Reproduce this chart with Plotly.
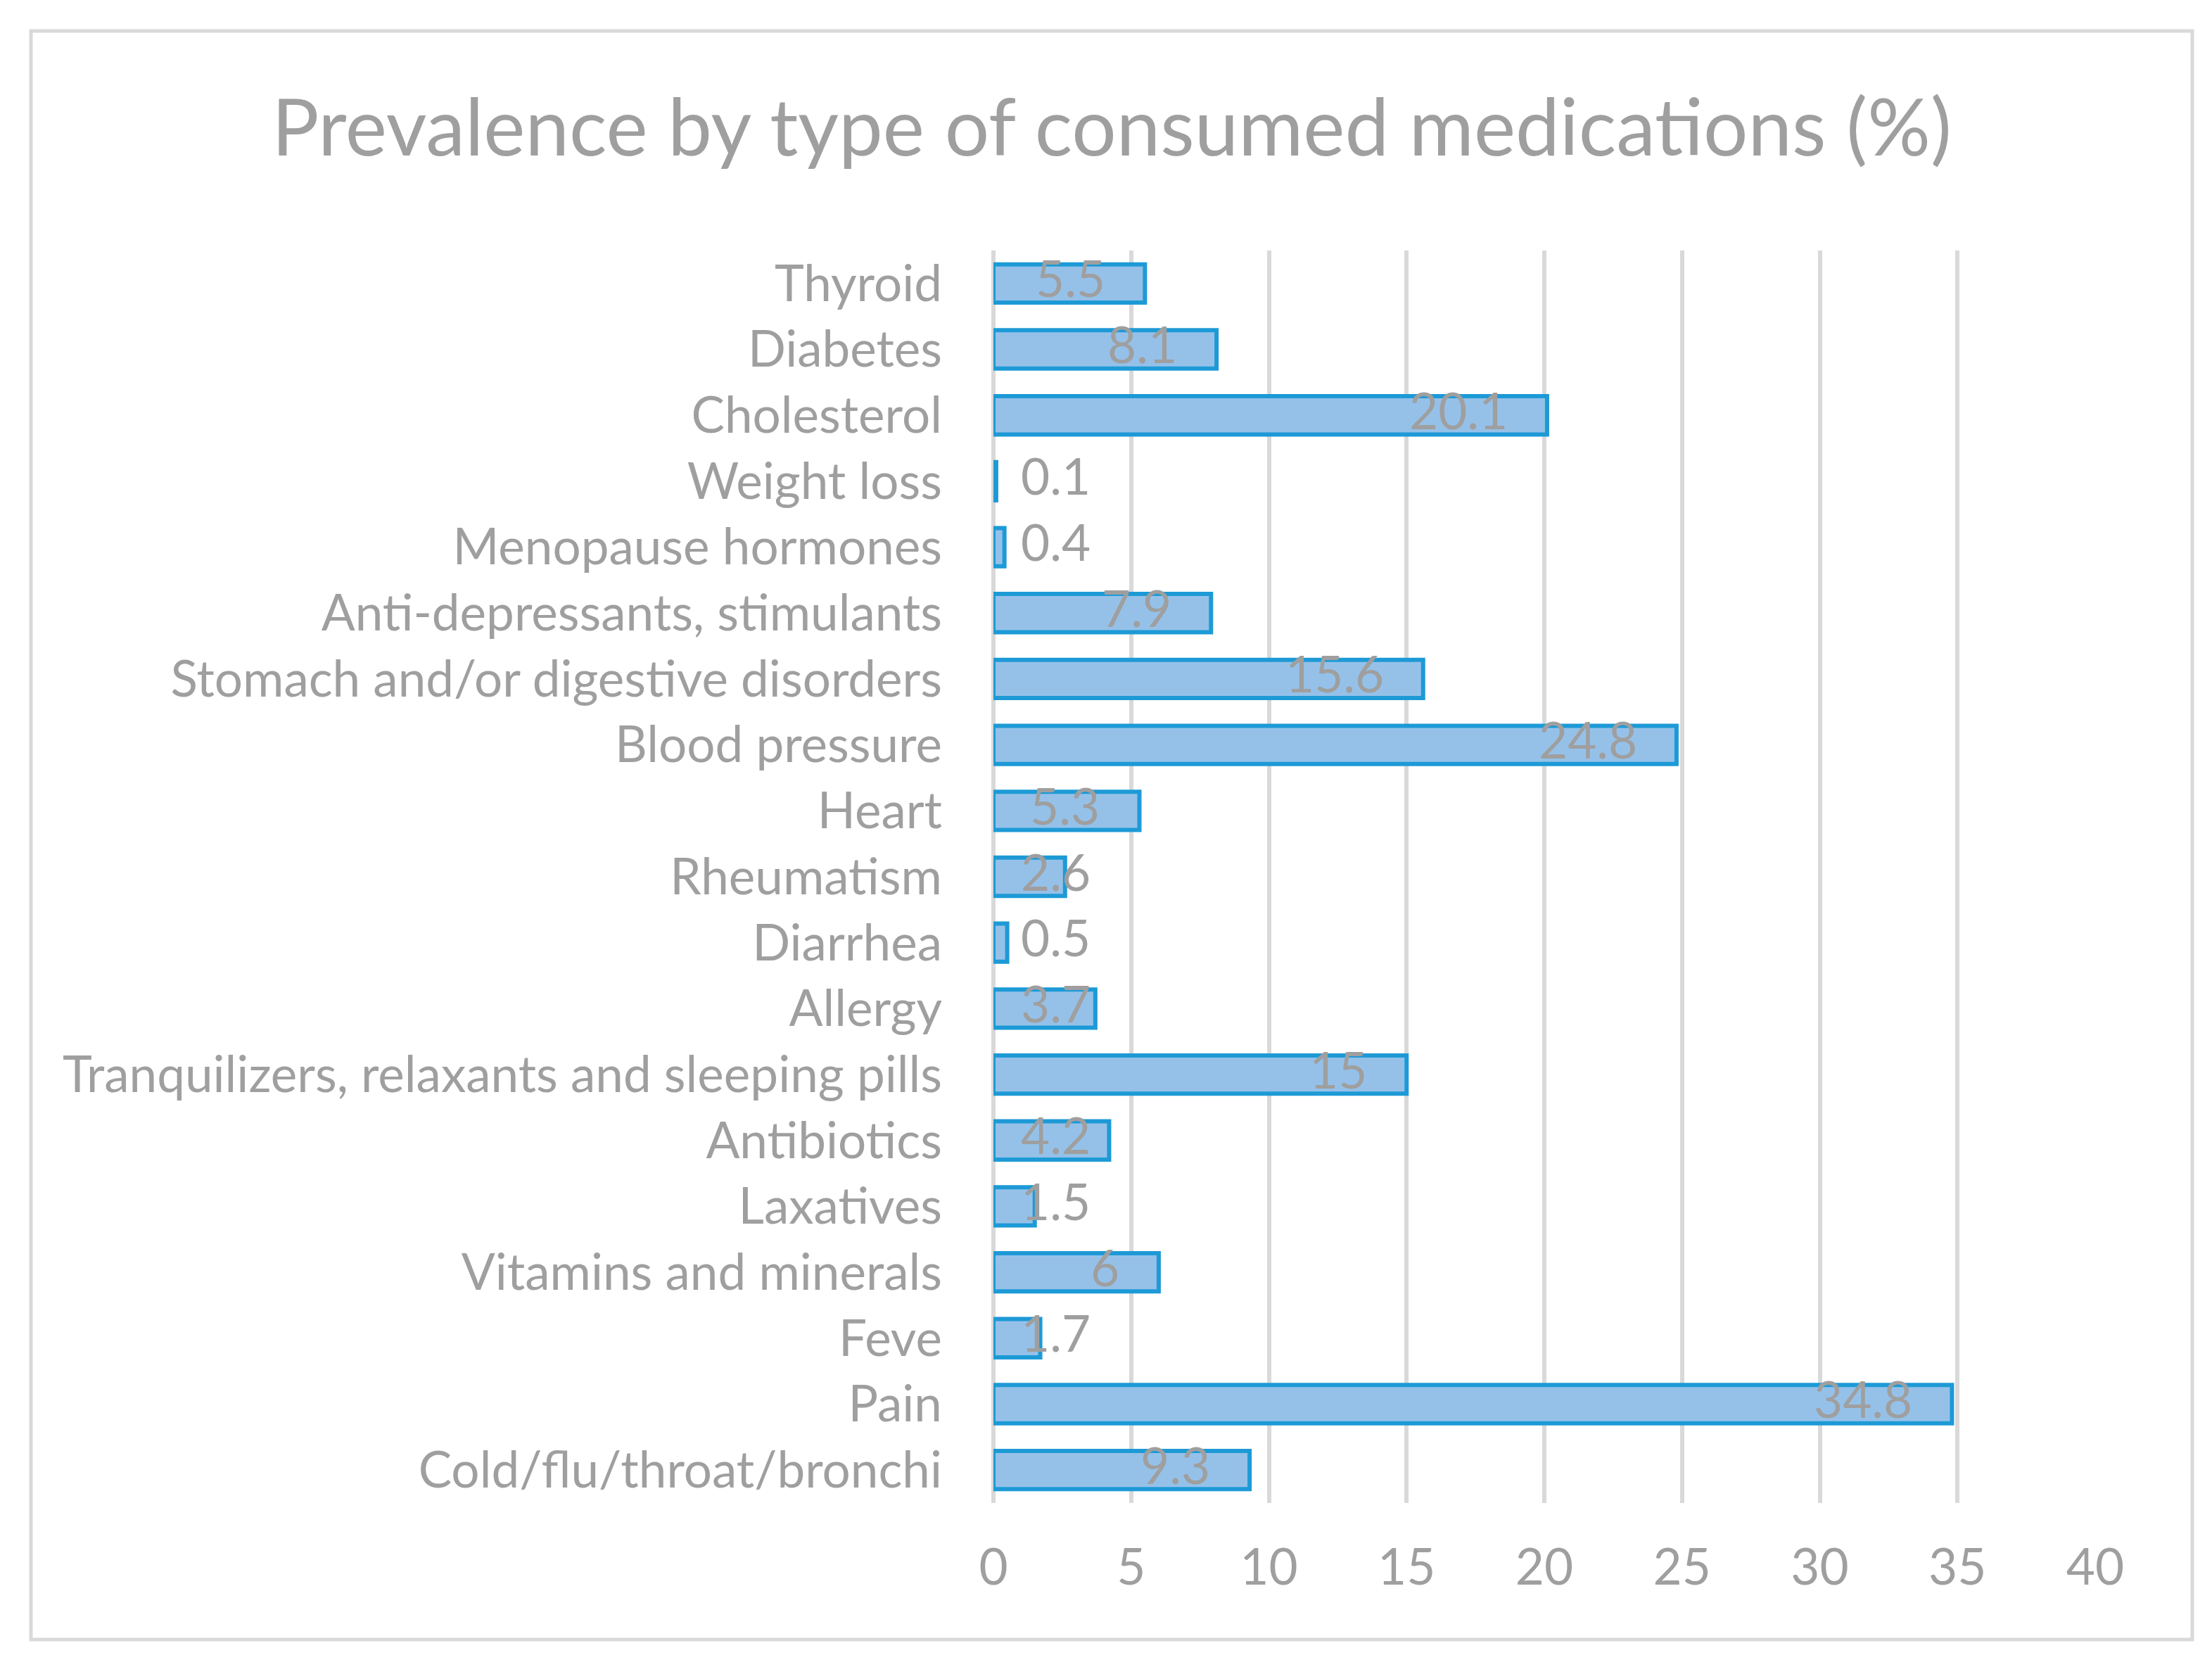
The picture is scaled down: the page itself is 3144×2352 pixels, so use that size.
import plotly.graph_objects as go

# categories listed bottom -> top, as drawn on the axis
categories = [
    "Cold/flu/throat/bronchi", "Pain", "Feve", "Vitamins and minerals",
    "Laxatives", "Antibiotics", "Tranquilizers, relaxants and sleeping pills",
    "Allergy", "Diarrhea", "Rheumatism", "Heart", "Blood pressure",
    "Stomach and/or digestive disorders", "Anti-depressants, stimulants",
    "Menopause hormones", "Weight loss", "Cholesterol", "Diabetes", "Thyroid",
]
values = [9.3, 34.8, 1.7, 6, 1.5, 4.2, 15, 3.7, 0.5, 2.6, 5.3, 24.8,
          15.6, 7.9, 0.4, 0.1, 20.1, 8.1, 5.5]
x_ticks = [0, 5, 10, 15, 20, 25, 30, 35, 40]

W, H = 3144, 2352
# plot area in pixels
L, R, T, B = 1404, 2970, 348, 2128
TXT = "#9f9f9f"
FONT = "Lato"
FS = 71

fig = go.Figure()
fig.add_trace(go.Bar(
    x=values, y=categories, orientation="h",
    marker=dict(color="#95c1e9", line=dict(color="#1d9ad6", width=6)),
    hoverinfo="x+y",
))

# labels sit just inside the bar end (Excel-like), never left of ~3.6
for cat, v in zip(categories, values):
    fig.add_annotation(x=max(v - 1.38, 3.58), y=cat, text=f"{v:g}",
                       xanchor="right", yanchor="middle", yshift=8,
                       showarrow=False,
                       font=dict(family=FONT, size=FS, color=TXT))

pw, ph = R - L, B - T
fig.add_shape(type="rect", xref="paper", yref="paper",
              x0=(36 - L) / pw, x1=(3108 - L) / pw,
              y0=(B - 2322) / ph, y1=(B - 36) / ph,
              line=dict(color="#d9d9d9", width=5), layer="below")

fig.update_layout(
    width=W, height=H,
    margin=dict(l=L, r=W - R, t=T, b=H - B, pad=0),
    paper_bgcolor="white", plot_bgcolor="white",
    showlegend=False, bargap=0.42,
    font=dict(family=FONT, color=TXT, size=FS),
    title=dict(text="Prevalence by type of consumed medications (%)",
               x=0.5, xref="container", xanchor="center",
               y=1 - 174 / H, yref="container", yanchor="middle",
               font=dict(family=FONT, size=112, color=TXT)),
)
fig.update_xaxes(range=[0, 40], tickvals=x_ticks, showgrid=True,
                 gridcolor="#d9d9d9", gridwidth=6,
                 zeroline=True, zerolinecolor="#d9d9d9", zerolinewidth=6,
                 showline=False, ticks="", ticklabelstandoff=44,
                 tickfont=dict(family=FONT, size=FS, color=TXT))
fig.update_yaxes(range=[-0.5, 18.5], showgrid=False, showline=False,
                 ticks="", ticklabelstandoff=72,
                 tickfont=dict(family=FONT, size=FS, color=TXT))

fig.write_html("out.html")
